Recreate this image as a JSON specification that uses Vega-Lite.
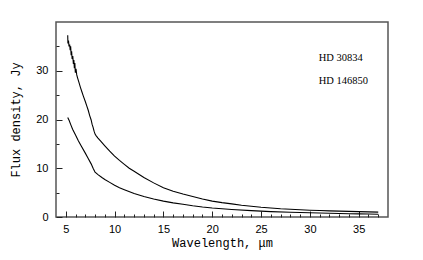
{
  "$schema": "https://vega.github.io/schema/vega-lite/v6.json",
  "width": 332,
  "height": 195,
  "autosize": {"type": "none"},
  "padding": {"left": 56, "top": 22, "right": 35, "bottom": 43},
  "background": "white",
  "config": {
    "view": {"stroke": "#555555", "strokeWidth": 1.5},
    "axis": {
      "domain": false,
      "grid": false,
      "labelFont": "Liberation Sans",
      "labelFontSize": 11,
      "labelColor": "black",
      "titleFont": "Liberation Mono",
      "titleFontSize": 12,
      "titleFontWeight": "normal",
      "titleColor": "black",
      "tickColor": "#222222",
      "tickWidth": 1,
      "labelOverlap": false
    }
  },
  "datasets": {
    "spectra": [
      {"star": "HD 30834", "wl": 5.2, "flux": 37.3},
      {"star": "HD 30834", "wl": 5.22, "flux": 35.6},
      {"star": "HD 30834", "wl": 5.28, "flux": 36.2},
      {"star": "HD 30834", "wl": 5.33, "flux": 35.0},
      {"star": "HD 30834", "wl": 5.4, "flux": 35.4},
      {"star": "HD 30834", "wl": 5.45, "flux": 34.2},
      {"star": "HD 30834", "wl": 5.5, "flux": 35.0},
      {"star": "HD 30834", "wl": 5.55, "flux": 33.2},
      {"star": "HD 30834", "wl": 5.6, "flux": 34.0},
      {"star": "HD 30834", "wl": 5.65, "flux": 32.4},
      {"star": "HD 30834", "wl": 5.72, "flux": 33.0},
      {"star": "HD 30834", "wl": 5.78, "flux": 31.4},
      {"star": "HD 30834", "wl": 5.83, "flux": 32.2},
      {"star": "HD 30834", "wl": 5.88, "flux": 30.5},
      {"star": "HD 30834", "wl": 5.93, "flux": 31.6},
      {"star": "HD 30834", "wl": 5.98, "flux": 29.6},
      {"star": "HD 30834", "wl": 6.05, "flux": 30.4},
      {"star": "HD 30834", "wl": 6.12, "flux": 29.2},
      {"star": "HD 30834", "wl": 6.2, "flux": 28.6},
      {"star": "HD 30834", "wl": 6.35, "flux": 27.6},
      {"star": "HD 30834", "wl": 6.5, "flux": 26.6},
      {"star": "HD 30834", "wl": 6.65, "flux": 25.7},
      {"star": "HD 30834", "wl": 6.8, "flux": 24.8},
      {"star": "HD 30834", "wl": 7.0, "flux": 23.7},
      {"star": "HD 30834", "wl": 7.15, "flux": 22.8},
      {"star": "HD 30834", "wl": 7.3, "flux": 21.9},
      {"star": "HD 30834", "wl": 7.45, "flux": 20.8},
      {"star": "HD 30834", "wl": 7.6, "flux": 19.9},
      {"star": "HD 30834", "wl": 7.7, "flux": 19.0},
      {"star": "HD 30834", "wl": 7.8, "flux": 18.4},
      {"star": "HD 30834", "wl": 7.9, "flux": 17.6},
      {"star": "HD 30834", "wl": 8.0, "flux": 17.0},
      {"star": "HD 30834", "wl": 8.1, "flux": 16.7},
      {"star": "HD 30834", "wl": 8.3, "flux": 16.2},
      {"star": "HD 30834", "wl": 8.6, "flux": 15.5},
      {"star": "HD 30834", "wl": 9.0, "flux": 14.6},
      {"star": "HD 30834", "wl": 9.5, "flux": 13.5},
      {"star": "HD 30834", "wl": 10, "flux": 12.5},
      {"star": "HD 30834", "wl": 10.5, "flux": 11.6},
      {"star": "HD 30834", "wl": 11, "flux": 10.8},
      {"star": "HD 30834", "wl": 11.5, "flux": 10.0},
      {"star": "HD 30834", "wl": 12, "flux": 9.4},
      {"star": "HD 30834", "wl": 13, "flux": 8.1},
      {"star": "HD 30834", "wl": 14, "flux": 7.0},
      {"star": "HD 30834", "wl": 15, "flux": 6.0},
      {"star": "HD 30834", "wl": 16, "flux": 5.3},
      {"star": "HD 30834", "wl": 17, "flux": 4.7},
      {"star": "HD 30834", "wl": 18, "flux": 4.2},
      {"star": "HD 30834", "wl": 19, "flux": 3.7},
      {"star": "HD 30834", "wl": 20, "flux": 3.25},
      {"star": "HD 30834", "wl": 21, "flux": 2.95},
      {"star": "HD 30834", "wl": 22, "flux": 2.7},
      {"star": "HD 30834", "wl": 23, "flux": 2.4},
      {"star": "HD 30834", "wl": 24, "flux": 2.2},
      {"star": "HD 30834", "wl": 25, "flux": 2.0},
      {"star": "HD 30834", "wl": 26, "flux": 1.85},
      {"star": "HD 30834", "wl": 27, "flux": 1.7},
      {"star": "HD 30834", "wl": 28, "flux": 1.6},
      {"star": "HD 30834", "wl": 29, "flux": 1.5},
      {"star": "HD 30834", "wl": 30, "flux": 1.4},
      {"star": "HD 30834", "wl": 31, "flux": 1.32},
      {"star": "HD 30834", "wl": 32, "flux": 1.25},
      {"star": "HD 30834", "wl": 33, "flux": 1.2},
      {"star": "HD 30834", "wl": 34, "flux": 1.15},
      {"star": "HD 30834", "wl": 35, "flux": 1.1},
      {"star": "HD 30834", "wl": 36, "flux": 1.05},
      {"star": "HD 30834", "wl": 37, "flux": 1.0},
      {"star": "HD 146850", "wl": 5.2, "flux": 20.4},
      {"star": "HD 146850", "wl": 5.35, "flux": 19.8},
      {"star": "HD 146850", "wl": 5.5, "flux": 19.0},
      {"star": "HD 146850", "wl": 5.7, "flux": 18.0},
      {"star": "HD 146850", "wl": 6.0, "flux": 16.8},
      {"star": "HD 146850", "wl": 6.3, "flux": 15.6},
      {"star": "HD 146850", "wl": 6.6, "flux": 14.5},
      {"star": "HD 146850", "wl": 7.0, "flux": 13.1},
      {"star": "HD 146850", "wl": 7.3, "flux": 12.0},
      {"star": "HD 146850", "wl": 7.6, "flux": 10.9},
      {"star": "HD 146850", "wl": 7.8, "flux": 10.0},
      {"star": "HD 146850", "wl": 8.0, "flux": 9.2},
      {"star": "HD 146850", "wl": 8.3, "flux": 8.7},
      {"star": "HD 146850", "wl": 8.7, "flux": 8.1},
      {"star": "HD 146850", "wl": 9.0, "flux": 7.7},
      {"star": "HD 146850", "wl": 9.5, "flux": 7.1},
      {"star": "HD 146850", "wl": 10, "flux": 6.5},
      {"star": "HD 146850", "wl": 10.5, "flux": 6.0},
      {"star": "HD 146850", "wl": 11, "flux": 5.6},
      {"star": "HD 146850", "wl": 12, "flux": 4.8},
      {"star": "HD 146850", "wl": 13, "flux": 4.2},
      {"star": "HD 146850", "wl": 14, "flux": 3.7},
      {"star": "HD 146850", "wl": 15, "flux": 3.25},
      {"star": "HD 146850", "wl": 16, "flux": 2.9},
      {"star": "HD 146850", "wl": 17, "flux": 2.6},
      {"star": "HD 146850", "wl": 18, "flux": 2.3},
      {"star": "HD 146850", "wl": 19, "flux": 2.05},
      {"star": "HD 146850", "wl": 20, "flux": 1.85},
      {"star": "HD 146850", "wl": 22, "flux": 1.55},
      {"star": "HD 146850", "wl": 24, "flux": 1.3},
      {"star": "HD 146850", "wl": 26, "flux": 1.1},
      {"star": "HD 146850", "wl": 28, "flux": 0.98},
      {"star": "HD 146850", "wl": 30, "flux": 0.88},
      {"star": "HD 146850", "wl": 32, "flux": 0.78},
      {"star": "HD 146850", "wl": 34, "flux": 0.68},
      {"star": "HD 146850", "wl": 35, "flux": 0.64},
      {"star": "HD 146850", "wl": 36, "flux": 0.6},
      {"star": "HD 146850", "wl": 37, "flux": 0.56}
    ],
    "labels": [
      {"label": "HD 30834", "wl": 30.9, "flux": 32.7},
      {"label": "HD 146850", "wl": 30.9, "flux": 27.8}
    ]
  },
  "resolve": {"axis": {"x": "independent", "y": "independent"}},
  "layer": [
    {
      "data": {"name": "spectra"},
      "mark": {"type": "line", "color": "black", "strokeWidth": 1.1, "interpolate": "linear"},
      "encoding": {
        "x": {
          "field": "wl", "type": "quantitative",
          "scale": {"domain": [4, 38], "nice": false, "zero": false},
          "axis": {
            "orient": "bottom",
            "title": "Wavelength, μm",
            "values": [5, 10, 15, 20, 25, 30, 35],
            "tickSize": -6,
            "labelPadding": 12,
            "titlePadding": 3
          }
        },
        "y": {
          "field": "flux", "type": "quantitative",
          "scale": {"domain": [0, 40], "nice": false},
          "axis": {
            "orient": "left",
            "title": "Flux density, Jy",
            "values": [0, 10, 20, 30],
            "tickSize": -6,
            "labelPadding": 14,
            "titlePadding": 13
          }
        },
        "detail": {"field": "star"}
      }
    },
    {
      "data": {"name": "labels"},
      "mark": {"type": "text", "align": "left", "baseline": "middle", "font": "Liberation Serif", "fontSize": 10.5, "color": "black"},
      "encoding": {
        "x": {
          "field": "wl", "type": "quantitative",
          "axis": {
            "orient": "bottom",
            "title": null,
            "labels": false,
            "values": [6,7,8,9,11,12,13,14,16,17,18,19,21,22,23,24,26,27,28,29,31,32,33,34,36,37],
            "tickSize": -3
          }
        },
        "y": {
          "field": "flux", "type": "quantitative",
          "axis": {
            "orient": "left",
            "title": null,
            "labels": false,
            "values": [5, 15, 25, 35],
            "tickSize": -3
          }
        },
        "text": {"field": "label"}
      }
    }
  ]
}
